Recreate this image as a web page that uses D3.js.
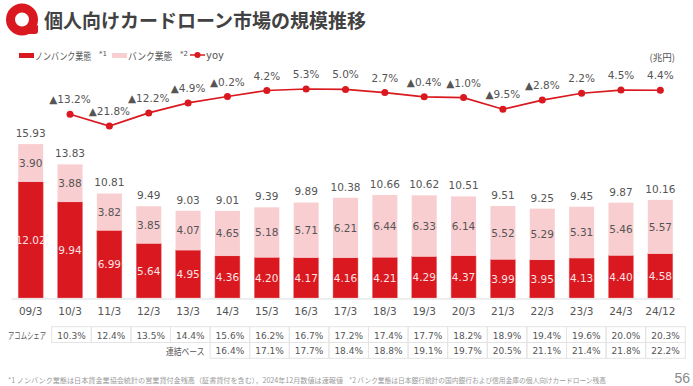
<!DOCTYPE html>
<html>
<head>
<meta charset="utf-8">
<script src="https://cdn.jsdelivr.net/npm/d3@7"></script>
<style>
    html, body { margin: 0; padding: 0; background: #fff; }
    svg { display: block; }
    text { font-family: "DejaVu Sans", sans-serif; fill: #555; }
    .jp { font-family: "Noto Sans CJK JP", sans-serif; }
</style>
</head>
<body>
<div id="chart"></div>
<script>
// Chart values
const categories = ["09/3", "10/3", "11/3", "12/3", "13/3", "14/3", "15/3", "16/3", "17/3", "18/3", "19/3", "20/3", "21/3", "22/3", "23/3", "24/3", "24/12"];
const nonBank = [12.02, 9.94, 6.99, 5.64, 4.95, 4.36, 4.20, 4.17, 4.16, 4.21, 4.29, 4.37, 3.99, 3.95, 4.13, 4.40, 4.58];
const bank = [3.90, 3.88, 3.82, 3.85, 4.07, 4.65, 5.18, 5.71, 6.21, 6.44, 6.33, 6.14, 5.52, 5.29, 5.31, 5.46, 5.57];
const totals = [15.93, 13.83, 10.81, 9.49, 9.03, 9.01, 9.39, 9.89, 10.38, 10.66, 10.62, 10.51, 9.51, 9.25, 9.45, 9.87, 10.16];
const yoyCategories = categories.slice(1);
const yoy = [-13.2, -21.8, -12.2, -4.9, -0.2, 4.2, 5.3, 5.0, 2.7, -0.4, -1.0, -9.5, -2.8, 2.2, 4.5, 4.4];
const acomShare = ["10.3%", "12.4%", "13.5%", "14.4%", "15.6%", "16.2%", "16.7%", "17.2%", "17.4%", "17.7%", "18.2%", "18.9%", "19.4%", "19.6%", "20.0%", "20.3%"];
const consolidatedShare = ["16.4%", "17.1%", "17.7%", "18.4%", "18.8%", "19.1%", "19.7%", "20.5%", "21.1%", "21.4%", "21.8%", "22.2%"];

const RED = "#d9181f";
const PINK = "#f9ced1";
const GRID = "#e4e4e4";

const svg = d3.select("#chart")
    .append("svg")
    .attr("width", 693)
    .attr("height", 386);

// Squeeze a Japanese label horizontally, the source uses a narrow kana font
function narrowText(label, px, py, size, scaleX) {
    return svg.append("text")
        .attr("class", "jp")
        .attr("transform", `translate(${px},${py}) scale(${scaleX},1)`)
        .attr("font-size", size)
        .text(label);
}

// Scales
const x = d3.scaleBand()
    .domain(categories)
    .range([11, 680])
    .paddingInner(0.365)
    .paddingOuter(0.1825);

const y = d3.scaleLinear()
    .domain([0, 15.93])
    .range([298, 144]);

const yLine = d3.scaleLinear()
    .domain([-21.8, 5.3])
    .range([126, 89]);

const xTable = d3.scaleBand()
    .domain(yoyCategories)
    .range([51.7, 685.3]);

const center = d => x(d) + x.bandwidth() / 2;

// Title and logo
svg.append("circle")
    .attr("cx", 22)
    .attr("cy", 19.5)
    .attr("r", 11.5)
    .attr("fill", "none")
    .attr("stroke", RED)
    .attr("stroke-width", 9);

svg.append("path")
    .attr("d", "M24 34 L38 25 L38 31 Q38 34 35 34 Z")
    .attr("fill", RED);

svg.append("text")
    .attr("class", "jp")
    .attr("x", 44)
    .attr("y", 27.5)
    .attr("font-size", 19)
    .attr("font-weight", 700)
    .style("fill", "#424242")
    .text("個人向けカードローン市場の規模推移");

// Legend
svg.append("rect").attr("x", 19).attr("y", 53).attr("width", 15).attr("height", 5).attr("fill", RED);
svg.append("rect").attr("x", 112).attr("y", 53).attr("width", 15).attr("height", 5).attr("fill", PINK);
svg.append("line").attr("x1", 190).attr("x2", 205).attr("y1", 55).attr("y2", 55).attr("stroke", RED).attr("stroke-width", 1.5);
svg.append("circle").attr("cx", 197.5).attr("cy", 55).attr("r", 3).attr("fill", RED);

narrowText("ノンバンク業態", 35, 59.5, 10, 0.8);
narrowText("バンク業態", 128, 59.5, 10, 0.88);

const legendItems = [
    { x: 99, y: 56, size: 7, label: "*1" },
    { x: 180, y: 56, size: 7, label: "*2" },
    { x: 206, y: 59, size: 10, label: "yoy" }
];

svg.selectAll(".legend-label")
    .data(legendItems)
    .enter().append("text")
    .attr("class", "legend-label")
    .attr("x", d => d.x)
    .attr("y", d => d.y)
    .attr("font-size", d => d.size)
    .text(d => d.label);

svg.append("text")
    .attr("class", "jp")
    .attr("x", 675)
    .attr("y", 60.5)
    .attr("text-anchor", "end")
    .attr("font-size", 9.5)
    .text("(兆円)");

// Stacked bars
svg.selectAll(".non-bank")
    .data(categories)
    .enter().append("rect")
    .attr("class", "non-bank")
    .attr("x", d => x(d))
    .attr("y", (d, i) => y(nonBank[i]))
    .attr("width", x.bandwidth())
    .attr("height", (d, i) => y(0) - y(nonBank[i]))
    .attr("fill", RED)
    .attr("stroke", "#ea7d82")
    .attr("stroke-width", 0.5);

svg.selectAll(".bank")
    .data(categories)
    .enter().append("rect")
    .attr("class", "bank")
    .attr("x", d => x(d))
    .attr("y", (d, i) => y(nonBank[i] + bank[i]))
    .attr("width", x.bandwidth())
    .attr("height", (d, i) => y(nonBank[i]) - y(nonBank[i] + bank[i]))
    .attr("fill", PINK);

// Bar labels
svg.selectAll(".non-bank-label")
    .data(categories)
    .enter().append("text")
    .attr("x", center)
    .attr("y", (d, i) => y(nonBank[i] / 2) + 4)
    .attr("text-anchor", "middle")
    .attr("font-size", 10.5)
    .style("fill", "#fbe3e4")
    .text((d, i) => nonBank[i].toFixed(2));

svg.selectAll(".bank-label")
    .data(categories)
    .enter().append("text")
    .attr("x", center)
    .attr("y", (d, i) => y(nonBank[i] + bank[i] / 2) + 4)
    .attr("text-anchor", "middle")
    .attr("font-size", 10.5)
    .text((d, i) => bank[i].toFixed(2));

svg.selectAll(".total-label")
    .data(categories)
    .enter().append("text")
    .attr("x", center)
    .attr("y", (d, i) => y(totals[i]) - 7)
    .attr("text-anchor", "middle")
    .attr("font-size", 10.5)
    .text((d, i) => totals[i].toFixed(2));

// Category axis
const xAxis = svg.append("g")
    .attr("transform", "translate(0,298.5)")
    .call(d3.axisBottom(x).tickSize(0).tickPadding(9));

xAxis.select(".domain").attr("stroke", "#e8e8e8").attr("stroke-width", 1.5);
xAxis.selectAll("text").attr("font-size", 10.5).attr("font-family", null);

// yoy line
const line = d3.line()
    .x((d, i) => center(yoyCategories[i]))
    .y(d => yLine(d));

svg.append("path")
    .datum(yoy)
    .attr("d", line)
    .attr("fill", "none")
    .attr("stroke", RED)
    .attr("stroke-width", 1.7);

svg.selectAll(".yoy-dot")
    .data(yoy)
    .enter().append("circle")
    .attr("cx", (d, i) => center(yoyCategories[i]))
    .attr("cy", d => yLine(d))
    .attr("r", 3.5)
    .attr("fill", RED);

svg.selectAll(".yoy-label")
    .data(yoy)
    .enter().append("text")
    .attr("x", (d, i) => center(yoyCategories[i]))
    .attr("y", d => yLine(d) - 11)
    .attr("text-anchor", "middle")
    .attr("font-size", 10.5)
    .text(d => (d < 0 ? "▲" : "") + Math.abs(d).toFixed(1) + "%");

// Share table
const rowTop = 326.7, rowHeight = 15.8;
const rows = [
    { values: acomShare, cats: yoyCategories, row: 0 },
    { values: consolidatedShare, cats: yoyCategories.slice(4), row: 1 }
];

rows.forEach(r => {
    const group = svg.append("g");
    group.selectAll("rect")
        .data(r.cats)
        .enter().append("rect")
        .attr("x", d => xTable(d))
        .attr("y", rowTop + r.row * rowHeight)
        .attr("width", xTable.bandwidth())
        .attr("height", rowHeight)
        .attr("fill", "none")
        .attr("stroke", GRID);
    group.selectAll("text")
        .data(r.cats)
        .enter().append("text")
        .attr("x", d => xTable(d) + xTable.bandwidth() / 2)
        .attr("y", rowTop + r.row * rowHeight + 11.8)
        .attr("text-anchor", "middle")
        .attr("font-size", 9)
        .text((d, i) => r.values[i]);
});

narrowText("アコムシェア", 8, 338.5, 9.5, 0.667);
narrowText("連結ベース", 166, 354.5, 9.5, 0.82);

// Footnotes and page number
svg.append("text")
    .attr("class", "jp")
    .attr("x", 8)
    .attr("y", 383)
    .attr("font-size", 7.2)
    .attr("textLength", 335)
    .attr("lengthAdjust", "spacingAndGlyphs")
    .style("fill", "#9a9a9a")
    .text("*1 ノンバンク業態は日本貸金業協会統計の営業貸付金残高（証書貸付を含む），2024年12月数値は速報値");

svg.append("text")
    .attr("class", "jp")
    .attr("x", 349)
    .attr("y", 383)
    .attr("font-size", 7.2)
    .attr("textLength", 257)
    .attr("lengthAdjust", "spacingAndGlyphs")
    .style("fill", "#9a9a9a")
    .text("*2 バンク業態は日本銀行統計の国内銀行および信用金庫の個人向けカードローン残高");

svg.append("text")
    .attr("x", 690)
    .attr("y", 383)
    .attr("text-anchor", "end")
    .attr("font-size", 14)
    .style("font-family", "'Liberation Sans', sans-serif")
    .style("fill", "#8a8a8a")
    .text("56");
</script>
</body>
</html>
